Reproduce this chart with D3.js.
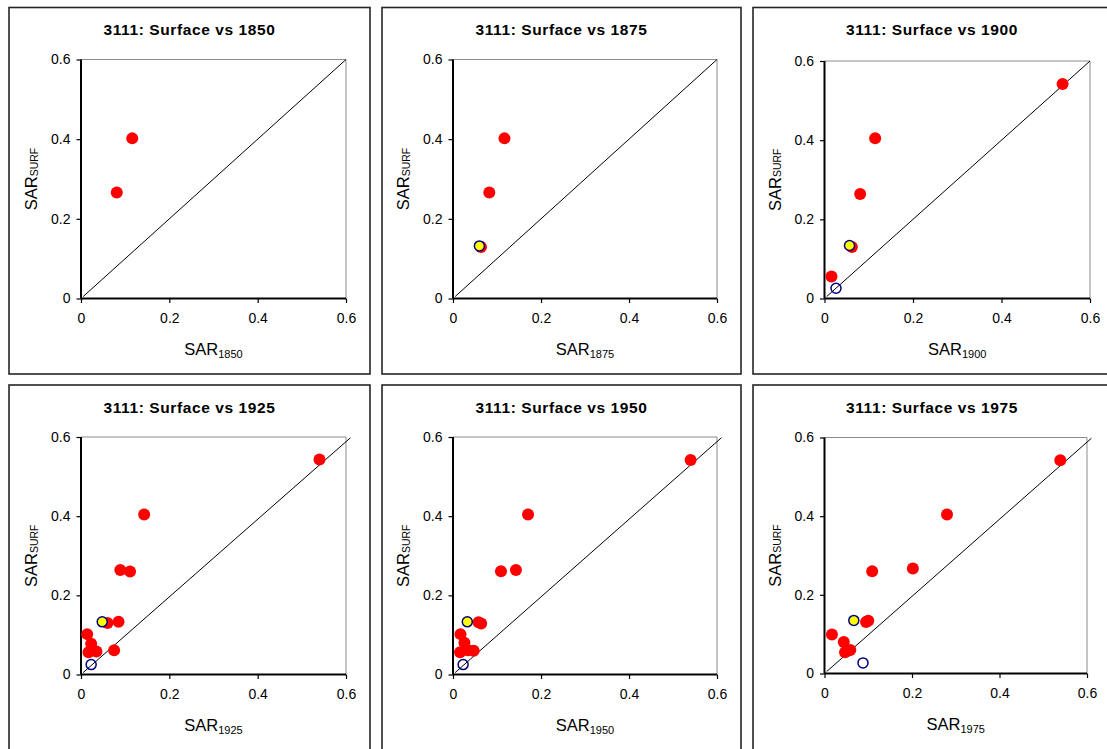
<!DOCTYPE html>
<html><head><meta charset="utf-8">
<script src="https://cdn.jsdelivr.net/npm/d3@7"></script>
<style>body{margin:0;background:#fff}svg{display:block}</style>
</head><body>
<svg id="c" width="1107" height="749"></svg>
<script>
// ---- data ----
const years = [1850, 1875, 1900, 1925, 1950, 1975];
const tickValues = [0, 0.2, 0.4, 0.6];
const tickLabels = ["0", "0.2", "0.4", "0.6"];

const red1850 = [[0.116, 0.402], [0.081, 0.266]];
const red1875 = [[0.117, 0.402], [0.0825, 0.266], [0.0636, 0.129]];
const red1900 = [[0.538, 0.542], [0.1145, 0.405], [0.0806, 0.264], [0.0619, 0.130], [0.0158, 0.0556]];
const red1925 = [[0.540, 0.543], [0.143, 0.404], [0.089, 0.264], [0.111, 0.260], [0.060, 0.130],
                 [0.085, 0.133], [0.014, 0.102], [0.023, 0.078], [0.017, 0.056], [0.035, 0.058], [0.075, 0.061]];
const red1950 = [[0.540, 0.542], [0.1705, 0.404], [0.109, 0.261], [0.143, 0.264], [0.058, 0.132],
                 [0.064, 0.129], [0.017, 0.102], [0.026, 0.080], [0.016, 0.056], [0.034, 0.061], [0.047, 0.060]];
const red1975 = [[0.539, 0.542], [0.280, 0.404], [0.202, 0.267], [0.109, 0.260], [0.095, 0.131],
                 [0.100, 0.134], [0.017, 0.099], [0.044, 0.080], [0.047, 0.054], [0.059, 0.060], [0.053, 0.058]];
const redSets = [red1850, red1875, red1900, red1925, red1950, red1975];

const yellowX = [null, 0.060, 0.0565, 0.048, 0.0325, 0.067];
const yellowY = [null, 0.132, 0.134, 0.133, 0.133, 0.135];
const openX = [null, null, 0.026, 0.023, 0.023, 0.088];
const openY = [null, null, 0.026, 0.025, 0.025, 0.027];

const diagStart = [0.005, 0.005];
const diagEndX = [0.6, 0.6, 0.6, 0.61, 0.61, 0.61];
const diagEndY = [0.6, 0.6, 0.6, 0.598, 0.598, 0.598];

// ---- layout ----
const panelBoxes = [[9, 7.5, 370, 374], [382, 7.5, 741, 374], [753, 7.5, 1114, 374],
                    [9, 385, 370, 760], [382, 385, 741, 760], [753, 385, 1114, 760]];
const plotRects = [[81, 59.5, 346, 298.5], [453, 59.5, 717, 298.5], [824.5, 61, 1090, 298.5],
                   [81, 437, 346, 674.5], [453, 437, 717, 674.5], [824.5, 437.5, 1087, 673.5]];

const FONT = "'Liberation Sans', Arial, sans-serif";
const svg = d3.select("#c");

years.forEach((yr, i) => {
  const [bx0, by0, bx1, by1] = panelBoxes[i];
  const [px0, py0, px1, py1] = plotRects[i];
  const g = svg.append("g");

  g.append("rect").attr("x", bx0).attr("y", by0).attr("width", bx1 - bx0).attr("height", by1 - by0)
    .attr("fill", "#fff").attr("stroke", "#262626").attr("stroke-width", 1.6);

  const x = d3.scaleLinear().domain([0, 0.6]).range([px0, px1]);
  const y = d3.scaleLinear().domain([0, 0.6]).range([py1, py0]);

  // plot area border (top/right gray)
  g.append("path").attr("d", `M${px0},${py0}H${px1}V${py1}`)
    .attr("fill", "none").attr("stroke", "#8c8c8c").attr("stroke-width", 1);

  // title
  g.append("text").attr("x", (bx0 + bx1) / 2 - (i % 3 === 2 ? 1.5 : 0)).attr("y", by0 + 27.5)
    .attr("text-anchor", "middle").attr("font-family", FONT).attr("font-weight", "bold")
    .attr("font-size", 15.5).attr("letter-spacing", 0.6)
    .attr("fill", "#000").text(`3111: Surface vs ${yr}`);

  // axes
  const fmt = v => tickLabels[tickValues.indexOf(v)];
  const xa = g.append("g").attr("transform", `translate(0,${py1})`)
    .call(d3.axisBottom(x).tickValues(tickValues).tickFormat(fmt).tickSize(4.5).tickPadding(10));
  const ya = g.append("g").attr("transform", `translate(${px0},0)`)
    .call(d3.axisLeft(y).tickValues(tickValues).tickFormat(fmt).tickSize(4.5).tickPadding(6));
  [xa, ya].forEach(a => {
    a.select(".domain").attr("stroke", "#000").attr("stroke-width", 2);
    a.selectAll(".tick line").attr("stroke", "#000").attr("stroke-width", 1.2);
    a.selectAll(".tick text").attr("font-family", FONT).attr("font-size", 14).attr("fill", "#000");
  });
  xa.select(".domain").attr("d", `M${px0},0H${px1}`);
  ya.select(".domain").attr("d", `M0,${py1}V${py0}`);

  // axis titles
  const xt = g.append("text").attr("x", (px0 + px1) / 2).attr("y", py1 + 56.5)
    .attr("text-anchor", "middle").attr("font-family", FONT).attr("fill", "#000");
  xt.append("tspan").attr("font-size", 16.5).text("SAR");
  xt.append("tspan").attr("font-size", 11).attr("dy", 3).text(String(yr));

  const yt = g.append("text")
    .attr("transform", `translate(${px0 - 44},${(py0 + py1) / 2}) rotate(-90)`)
    .attr("text-anchor", "middle").attr("font-family", FONT).attr("fill", "#000");
  yt.append("tspan").attr("font-size", 16.5).text("SAR");
  yt.append("tspan").attr("font-size", 10.5).attr("dy", 0.5).text("SURF");

  // 1:1 line
  g.append("line")
    .attr("x1", x(diagStart[0])).attr("y1", y(diagStart[1]))
    .attr("x2", x(diagEndX[i])).attr("y2", y(diagEndY[i]))
    .attr("stroke", "#000").attr("stroke-width", 1);

  // red points
  g.selectAll("circle.red").data(redSets[i]).join("circle").attr("class", "red")
    .attr("cx", d => x(d[0])).attr("cy", d => y(d[1])).attr("r", 6).attr("fill", "#ff0000");

  // yellow point
  if (yellowX[i] != null) {
    g.append("circle").attr("cx", x(yellowX[i])).attr("cy", y(yellowY[i])).attr("r", 5)
      .attr("fill", "#ffff00").attr("stroke", "#000080").attr("stroke-width", 1.5);
  }
  // open point
  if (openX[i] != null) {
    g.append("circle").attr("cx", x(openX[i])).attr("cy", y(openY[i])).attr("r", 5)
      .attr("fill", "none").attr("stroke", "#000080").attr("stroke-width", 1.5);
  }
});
</script>
</body></html>
